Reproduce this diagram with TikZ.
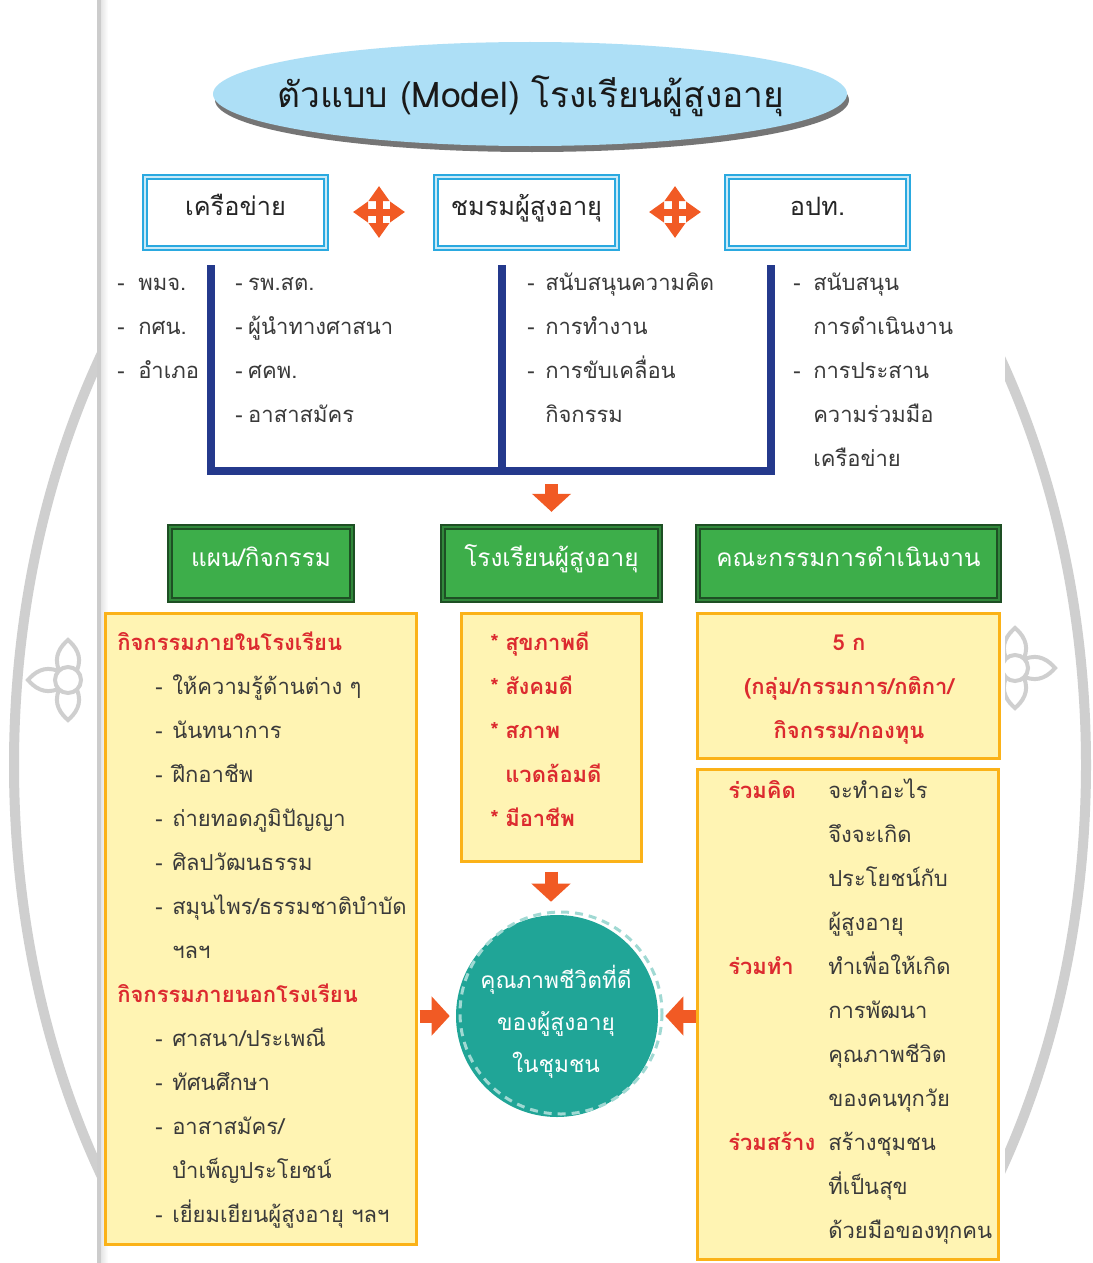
\documentclass[tikz,border=0pt]{standalone}
\usepackage{fontspec}
\setmainfont[Script=Thai]{Loma}
\usetikzlibrary{arrows.meta,shadows,calc,shapes.geometric}
\definecolor{navy}{HTML}{24398C}
\definecolor{orng}{HTML}{F15A24}
\definecolor{skyb}{HTML}{ADDFF6}
\definecolor{bboard}{HTML}{2AA9E0}
\definecolor{gfill}{HTML}{3DAE4A}
\definecolor{gdark}{HTML}{1E4F24}
\definecolor{yfill}{HTML}{FFF4B3}
\definecolor{yedge}{HTML}{FBB218}
\definecolor{redt}{HTML}{DC2A2F}
\definecolor{txtg}{HTML}{3A3A3A}
\definecolor{teala}{HTML}{20A597}
\definecolor{tealb}{HTML}{A0D9D3}
\definecolor{wmgray}{HTML}{CFCFCF}
\newcommand\mydash[1]{\makebox[#1][l]{-}}
\newcommand\mystar[1]{\makebox[#1][l]{*}}
\begin{document}
\begin{tikzpicture}[x=0.75pt,y=-0.75pt,
  body/.style={inner sep=0pt, text=txtg, font=\fontsize{16.5}{20}\selectfont, anchor=mid west},
  redb/.style={inner sep=0pt, text=redt, font=\bfseries\fontsize{16.5}{20}\selectfont, anchor=mid west},
  bluebox/.style={draw=bboard, double=bboard!25, double distance=1.5pt, line width=1.8pt, fill=white,
    minimum width=135.75pt, minimum height=53.25pt, inner sep=0pt, text=black!85,
    font=\fontsize{19}{22}\selectfont, text height=1.5ex, text depth=0.5ex},
  greenbox/.style={draw=gdark, double=gfill!60!gdark, double distance=1.2pt, line width=1.8pt, fill=gfill,
    minimum height=54.75pt, inner sep=0pt, text=white,
    font=\fontsize{18.3}{22}\selectfont, text height=1.5ex, text depth=0.5ex},
  ybox/.style={draw=yedge, line width=2.25pt, fill=yfill, inner sep=0pt},
  bigarrow/.style={orng, line width=9.75pt, -{Triangle[length=13.5pt,width=28.5pt]}},
  fourway/.style={orng, line width=5.25pt, {Triangle[length=11.25pt,width=15pt]}-{Triangle[length=11.25pt,width=15pt]}},
  wmline/.style={wmgray, line width=3pt},
  circtxt/.style={inner sep=0pt, text=white, font=\fontsize{17}{20}\selectfont, anchor=mid}
]
\useasboundingbox (0,0) rectangle (1092,1263);
\fill[white] (0,0) rectangle (1092,1263);
% ---- watermark outside the panel
\begin{scope}
  \clip (0,0) rectangle (98,1263) (1005,0) rectangle (1092,1263);
  \draw[wmgray, line width=7.5pt] (550,765) ellipse [x radius=536, y radius=750];
  \begin{scope}[shift={(68,680)}]
    \draw[wmline] (0,0) circle [radius=13];
    \foreach \a in {90,180,270}
      \draw[wmline, rotate=\a] (10,-9) .. controls (24,-15) and (34,-7) .. (40,0) .. controls (34,7) and (24,15) .. (10,9);
  \end{scope}
  \begin{scope}[shift={(1015,668)}]
    \draw[wmline] (0,0) circle [radius=13];
    \foreach \a in {0,90,270}
      \draw[wmline, rotate=\a] (10,-9) .. controls (24,-15) and (34,-7) .. (40,0) .. controls (34,7) and (24,15) .. (10,9);
  \end{scope}
\end{scope}
\fill[black!20] (97,0) rectangle (101,1263);
\shade[left color=black!10, right color=white] (101,0) rectangle (108,1263);

% ---- title
\node[ellipse, fill=skyb, minimum width=475.5pt, minimum height=78pt, inner sep=0pt,
  drop shadow={shadow xshift=1.5pt, shadow yshift=-4.5pt, fill=black!60, opacity=.9}] (title) at (530,94) {};
\node[inner sep=0pt, anchor=mid, font=\fontsize{26.5}{30}\selectfont, text=black!90] (titletext) at (531,104)
  {ตัวแบบ (Model) โรงเรียนผู้สูงอายุ};

% ---- top boxes
\node[bluebox] (net) at (235.5,212.5) {เครือข่าย};
\node[bluebox] (club) at (526.5,212.5) {ชมรมผู้สูงอายุ};
\node[bluebox] (lao) at (817.5,212.5) {อปท.};
\coordinate (m1) at (379,212);
\coordinate (m2) at (675,212);
\draw[fourway] ($(m1)+(-26,0)$) -- ($(m1)+(26,0)$);
\draw[fourway] ($(m1)+(0,-26)$) -- ($(m1)+(0,26)$);
\draw[fourway] ($(m2)+(-26,0)$) -- ($(m2)+(26,0)$);
\draw[fourway] ($(m2)+(0,-26)$) -- ($(m2)+(0,26)$);

% ---- bracket
\coordinate (b1) at (211,265);
\coordinate (b2) at (211,471);
\coordinate (b3) at (771,471);
\coordinate (b4) at (771,265);
\coordinate (b5) at (502,265);
\coordinate (b6) at (502,471);
\draw[navy, line width=5.5pt] (b1) -- (b2) -- (b3) -- (b4);
\draw[navy, line width=5.5pt] (b5) -- (b6);

% ---- lists under the top boxes
\foreach \t [count=\i from 0] in {{\mydash{15.75pt}พมจ.},{\mydash{15.75pt}กศน.},{\mydash{15.75pt}อำเภอ}}
  \node[body] (ca\i) at (117,287+44*\i) {\t};
\foreach \t [count=\i from 0] in {{\mydash{9.75pt}รพ.สต.},{\mydash{9.75pt}ผู้นำทางศาสนา},{\mydash{9.75pt}ศคพ.},{\mydash{9.75pt}อาสาสมัคร}}
  \node[body] (cb\i) at (235,287+44*\i) {\t};
\foreach \t [count=\i from 0] in {{\mydash{13.5pt}สนับสนุนความคิด},{\mydash{13.5pt}การทำงาน},{\mydash{13.5pt}การขับเคลื่อน},{\hspace*{13.5pt}กิจกรรม}}
  \node[body] (cc\i) at (527,287+44*\i) {\t};
\foreach \t [count=\i from 0] in {{\mydash{15pt}สนับสนุน},{\hspace*{15pt}การดำเนินงาน},{\mydash{15pt}การประสาน},{\hspace*{15pt}ความร่วมมือ},{\hspace*{15pt}เครือข่าย}}
  \node[body] (cd\i) at (793,287+44*\i) {\t};

% ---- green boxes
\node[greenbox, minimum width=136.5pt] (gplan) at (261,563.5) {แผน/กิจกรรม};
\node[greenbox, minimum width=162.75pt] (gschool) at (551.5,563.5) {โรงเรียนผู้สูงอายุ};
\node[greenbox, minimum width=225.75pt] (gcomm) at (848.5,563.5) {คณะกรรมการดำเนินงาน};
\coordinate (bmid) at (551.5,471);
\draw[bigarrow, shorten <=10pt, shorten >=10.5pt] (bmid) -- (gschool.north);

% ---- yellow boxes
\node[ybox, minimum width=233.25pt, minimum height=473.25pt] (yl) at (260.5,928.5) {};
\node[ybox, minimum width=135pt, minimum height=186pt] (ym) at (551,737) {};
\node[ybox, minimum width=226.5pt, minimum height=108.75pt] (yrt) at (848,685.5) {};
\node[ybox, minimum width=225.75pt, minimum height=367.5pt] (yrb) at (847.5,1014) {};

% left box text
\node[redb] (lh1) at (117,647) {กิจกรรมภายในโรงเรียน};
\foreach \t [count=\i from 0] in {{\mydash{12.75pt}ให้ความรู้ด้านต่าง ๆ},{\mydash{12.75pt}นันทนาการ},{\mydash{12.75pt}ฝึกอาชีพ},{\mydash{12.75pt}ถ่ายทอดภูมิปัญญา},{\mydash{12.75pt}ศิลปวัฒนธรรม},{\mydash{12.75pt}สมุนไพร/ธรรมชาติบำบัด},{\hspace*{12.75pt}ฯลฯ}}
  \node[body] (li\i) at (155,691+44*\i) {\t};
\node[redb] (lh2) at (117,999) {กิจกรรมภายนอกโรงเรียน};
\foreach \t [count=\i from 0] in {{\mydash{12.75pt}ศาสนา/ประเพณี},{\mydash{12.75pt}ทัศนศึกษา},{\mydash{12.75pt}อาสาสมัคร/},{\hspace*{12.75pt}บำเพ็ญประโยชน์},{\mydash{12.75pt}เยี่ยมเยียนผู้สูงอายุ ฯลฯ}}
  \node[body] (lo\i) at (155,1043+44*\i) {\t};

% middle box text
\foreach \t [count=\i from 0] in {{\mystar{11.25pt}สุขภาพดี},{\mystar{11.25pt}สังคมดี},{\mystar{11.25pt}สภาพ},{\hspace*{11.25pt}แวดล้อมดี},{\mystar{11.25pt}มีอาชีพ}}
  \node[redb] (mi\i) at (490,647+44*\i) {\t};

% right top box text
\foreach \t [count=\i from 0] in {{5 ก},{(กลุ่ม/กรรมการ/กติกา/},{กิจกรรม/กองทุน}}
  \node[redb, anchor=mid] (rt\i) at (849,647+44*\i) {\t};

% right bottom box text
\node[redb] (rk1) at (728,795) {ร่วมคิด};
\node[redb] (rk2) at (728,971) {ร่วมทำ};
\node[redb] (rk3) at (728,1147) {ร่วมสร้าง};
\foreach \t [count=\i from 0] in {จะทำอะไร,จึงจะเกิด,ประโยชน์กับ,ผู้สูงอายุ,ทำเพื่อให้เกิด,การพัฒนา,คุณภาพชีวิต,ของคนทุกวัย,สร้างชุมชน,ที่เป็นสุข,ด้วยมือของทุกคน}
  \node[body] (rb\i) at (828,795+44*\i) {\t};

% ---- circle
\node[circle, fill=teala, minimum size=151.5pt, inner sep=0pt] (circ) at (557,1016) {};
\draw[tealb, line width=2.25pt, dash pattern=on 6pt off 4.5pt] (561,1013) circle [radius=101];
\foreach \t [count=\i from 0] in {คุณภาพชีวิตที่ดี,ของผู้สูงอายุ,ในชุมชน}
  \node[circtxt] (ct\i) at (556,985+42*\i) {\t};

% ---- arrows into the circle
\draw[bigarrow, shorten <=6.75pt, shorten >=9.75pt] (ym.south) -- (ym.south |- circ.north);
\draw[bigarrow, shorten <=1.5pt, shorten >=4.5pt] (yl.east |- circ.center) -- (circ.west);
\draw[bigarrow, shorten <=0pt, shorten >=5.25pt] (yrb.west |- circ.center) -- (circ.east);
\end{tikzpicture}
\end{document}
